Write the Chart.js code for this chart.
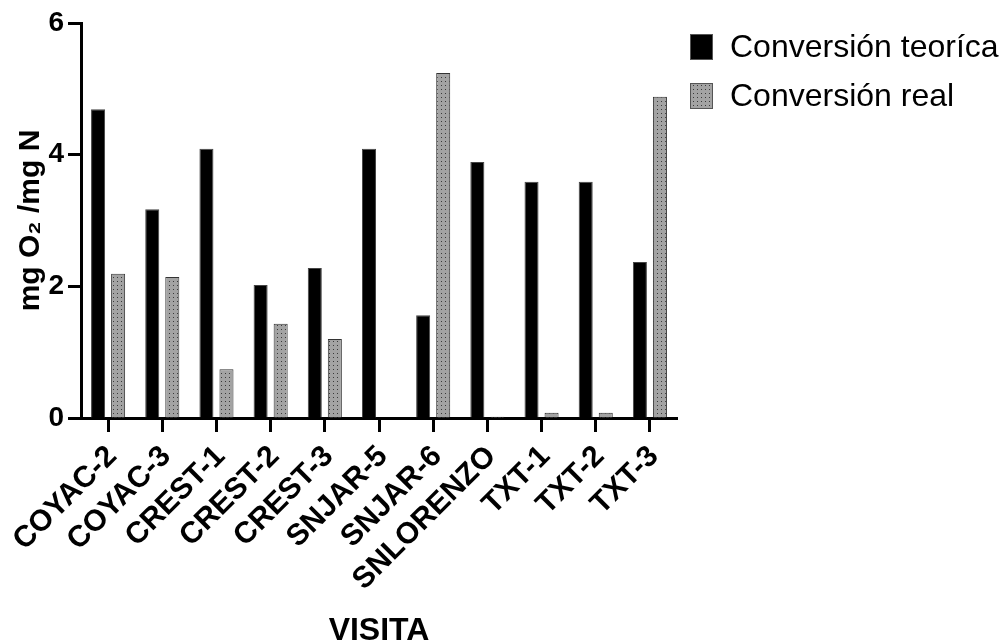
<!DOCTYPE html>
<html>
<head>
<meta charset="utf-8">
<script src="https://cdn.jsdelivr.net/npm/chart.js@4/dist/chart.umd.min.js"></script>
<style>
  html, body { margin: 0; padding: 0; background: #fff; }
  #wrap { width: 1005px; height: 641px; position: relative; }
</style>
</head>
<body>
<div id="wrap"><canvas id="chart"></canvas></div>
<script>
// datos
const visitas = ['COYAC-2', 'COYAC-3', 'CREST-1', 'CREST-2', 'CREST-3', 'SNJAR-5', 'SNJAR-6', 'SNLORENZO', 'TXT-1', 'TXT-2', 'TXT-3']
const convTeorica = [4.69, 3.17, 4.09, 2.02, 2.28, 4.09, 1.56, 3.89, 3.59, 3.59, 2.37]
const convReal = [2.19, 2.14, 0.74, 1.43, 1.20, 0, 5.24, 0.02, 0.08, 0.08, 4.88]
const yTicks = [0, 2, 4, 6]

const FONT = 'Liberation Sans, Arial, sans-serif'

// relleno gris punteado
function dotPattern() {
  const c = document.createElement('canvas')
  c.width = 4; c.height = 4
  const g = c.getContext('2d')
  g.fillStyle = '#a3a3a3'
  g.fillRect(0, 0, 4, 4)
  g.fillStyle = '#3a3a3a'
  g.fillRect(1, 1, 1, 1)
  return g.createPattern(c, 'repeat')
}

// leyenda a la derecha, pegada arriba
const legendaPlugin = {
  id: 'legenda',
  afterDraw(chart) {
    const { ctx, chartArea } = chart
    const x0 = chartArea.right + 13
    ctx.save()
    chart.data.datasets.forEach((ds, i) => {
      const top = 34 + i * 49
      ctx.fillStyle = ds.backgroundColor
      ctx.fillRect(x0, top, 23, 26)
      ctx.strokeStyle = '#555'
      ctx.lineWidth = 1
      ctx.strokeRect(x0 + 0.5, top + 0.5, 22, 25)
      ctx.fillStyle = '#000'
      ctx.font = '32px ' + FONT
      ctx.textBaseline = 'alphabetic'
      ctx.fillText(ds.label, x0 + 40, top + 23)
    })
    ctx.restore()
  }
}

const ctx = document.getElementById('chart').getContext('2d')
const gris = dotPattern()

new Chart(ctx, {
  type: 'bar',
  data: {
    labels: visitas,
    datasets: [
      {
        label: 'Conversión teoríca',
        data: convTeorica,
        backgroundColor: '#000',
        borderColor: '#444',
        borderWidth: 1,
        categoryPercentage: 0.74,
        barPercentage: 0.7
      },
      {
        label: 'Conversión real',
        data: convReal,
        backgroundColor: gris,
        borderColor: '#333',
        borderWidth: 1,
        categoryPercentage: 0.74,
        barPercentage: 0.7
      }
    ]
  },
  plugins: [legendaPlugin],
  options: {
    responsive: true,
    maintainAspectRatio: false,
    animation: false,
    layout: { padding: { top: 23, right: 328, bottom: 0, left: 0 } },
    plugins: {
      tooltip: { enabled: false },
      legend: { display: false }
    },
    scales: {
      x: {
        grid: { offset: false, drawOnChartArea: false, drawTicks: true, tickLength: 14, tickWidth: 3, tickColor: '#000' },
        border: { color: '#000', width: 3 },
        ticks: {
          color: '#000',
          autoSkip: false,
          minRotation: 45,
          maxRotation: 45,
          padding: 7,
          labelOffset: 4,
          font: { family: FONT, size: 30, weight: 'bold' }
        },
        title: {
          display: true,
          text: 'VISITA',
          color: '#000',
          padding: { top: 0, bottom: -6 },
          font: { family: FONT, size: 32, weight: 'bold', lineHeight: 1 }
        },
        afterFit: s => { s.height = 223 }
      },
      y: {
        min: 0,
        max: 6,
        afterBuildTicks: s => { s.ticks = yTicks.map(v => ({ value: v })) },
        grid: { drawOnChartArea: false, drawTicks: true, tickLength: 13, tickWidth: 3, tickColor: '#000' },
        border: { color: '#000', width: 3 },
        ticks: {
          color: '#000',
          padding: 4,
          font: { family: FONT, size: 28, weight: 'bold' }
        },
        title: {
          display: true,
          text: 'mg O₂ /mg N',
          color: '#000',
          padding: { top: 16, bottom: 0 },
          font: { family: FONT, size: 30, weight: 'bold', lineHeight: 1 }
        },
        afterFit: s => { s.width = 81 }
      }
    }
  }
})
</script>
</body>
</html>
